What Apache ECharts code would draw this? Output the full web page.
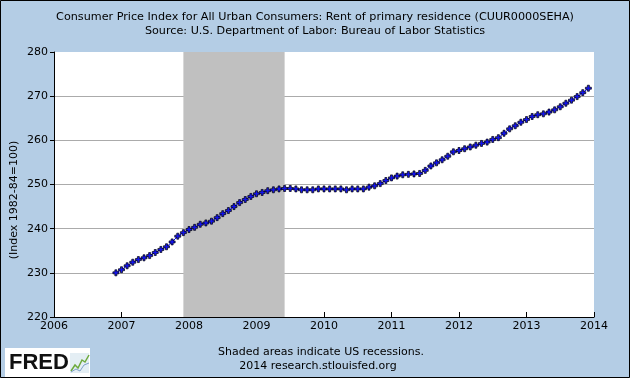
<!DOCTYPE html>
<html>
<head>
<meta charset="utf-8">
<script src="https://cdn.jsdelivr.net/npm/echarts@6/dist/echarts.min.js"></script>
<style>
html,body{margin:0;padding:0;background:#B4CDE5;}
#c{width:630px;height:378px;}
</style>
</head>
<body>
<div id="c"></div>
<script>
// Monthly observations, Dec 2006 .. Dec 2013
const startYear = 2006, startMonth = 12;
const values = [
  230.0,
  230.7, 231.6, 232.4, 233.0, 233.4, 233.9, 234.6, 235.3, 235.9, 237.0, 238.3, 239.1,
  239.8, 240.3, 241.0, 241.3, 241.7, 242.5, 243.4, 244.1, 245.0, 245.9, 246.6, 247.3,
  247.9, 248.2, 248.6, 248.8, 249.0, 249.1, 249.1, 249.0, 248.8, 248.8, 248.8, 249.0,
  249.0, 249.0, 249.0, 249.0, 248.8, 249.0, 249.0, 249.0, 249.4, 249.7, 250.2, 250.9,
  251.5, 251.9, 252.2, 252.3, 252.4, 252.5, 253.2, 254.2, 254.9, 255.6, 256.4, 257.4,
  257.7, 258.1, 258.5, 258.9, 259.3, 259.6, 260.2, 260.6, 261.6, 262.6, 263.3, 264.1,
  264.7, 265.4, 265.8, 266.0, 266.4, 266.9, 267.6, 268.4, 269.1, 269.9, 270.8, 271.8
];
const dates = values.map((v, i) => {
  const m = startMonth - 1 + i;
  const y = startYear + Math.floor(m / 12);
  return y + '-' + String(m % 12 + 1).padStart(2, '0');
});
const recessions = [['2007-12', '2009-06']];
const yTicks = [220, 230, 240, 250, 260, 270, 280];
const xTicks = [2006, 2007, 2008, 2009, 2010, 2011, 2012, 2013, 2014];
const titleLines = [
  'Consumer Price Index for All Urban Consumers: Rent of primary residence (CUUR0000SEHA)',
  'Source: U.S. Department of Labor: Bureau of Labor Statistics'
];
const yName = '(Index 1982-84=100)';
const footerLines = ['Shaded areas indicate US recessions.', '2014 research.stlouisfed.org'];

function toYear(s) { const p = s.split('-'); return +p[0] + (+p[1] - 1) / 12; }

const chart = echarts.init(document.getElementById('c'), null, {renderer: 'canvas'});
const font = 'DejaVu Sans';
const plus = 'path://M2,0 L4,0 L4,2 L6,2 L6,4 L4,4 L4,6 L2,6 L2,4 L0,4 L0,2 L2,2 Z';

chart.setOption({
  backgroundColor: '#B4CDE5',
  animation: false,
  title: {
    text: titleLines.join('\n'),
    left: 'center', top: 5,
    textStyle: {fontFamily: font, fontSize: 11.2, fontWeight: 'normal', color: '#000', lineHeight: 14}
  },
  grid: {left: 54, right: 36, top: 52, bottom: 61, show: true, backgroundColor: '#fff', borderWidth: 0},
  xAxis: {
    type: 'value', min: xTicks[0], max: xTicks[xTicks.length - 1], interval: 1,
    axisLine: {lineStyle: {color: '#000', width: 1}},
    axisTick: {inside: true, length: 5, lineStyle: {color: '#000'}},
    axisLabel: {fontFamily: font, fontSize: 11, color: '#000', margin: 4, formatter: v => String(v)},
    splitLine: {show: false}
  },
  yAxis: {
    type: 'value', min: yTicks[0], max: yTicks[yTicks.length - 1], interval: 10,
    axisLine: {show: true, lineStyle: {color: '#000', width: 1}},
    axisTick: {show: true, length: 4, lineStyle: {color: '#000'}},
    axisLabel: {fontFamily: font, fontSize: 11, color: '#000', margin: 6},
    splitLine: {show: true, lineStyle: {color: ['transparent', '#ABABAB', '#ABABAB', '#ABABAB', '#ABABAB', '#ABABAB', 'transparent'], width: 1}}
  },
  series: [{
    type: 'line',
    data: dates.map((d, i) => [toYear(d), values[i]]),
    lineStyle: {color: '#0000FF', width: 1},
    symbol: plus, symbolSize: 6, showSymbol: true,
    itemStyle: {color: '#1414F0', borderColor: '#000', borderWidth: 0.7},
    markArea: {
      silent: true,
      itemStyle: {color: '#C0C0C0'},
      data: recessions.map(r => [{xAxis: toYear(r[0])}, {xAxis: toYear(r[1])}])
    },
    z: 3
  }],
  graphic: [
    {type: 'rect', shape: {x: 0.5, y: 0.5, width: 629, height: 377}, style: {fill: 'none', stroke: '#000', lineWidth: 1}, z: 100},
    {type: 'text', x: 14, y: 200, rotation: Math.PI / 2,
      style: {text: yName, font: '11px "DejaVu Sans"', fill: '#000', textAlign: 'center', textVerticalAlign: 'middle'}},
    {type: 'text', x: 321, y: 352,
      style: {text: footerLines[0], font: '11px "DejaVu Sans"', fill: '#000', textAlign: 'center', textVerticalAlign: 'middle'}},
    {type: 'text', x: 318, y: 366,
      style: {text: footerLines[1], font: '11px "DejaVu Sans"', fill: '#000', textAlign: 'center', textVerticalAlign: 'middle'}},
    {type: 'rect', shape: {x: 5, y: 348, width: 85, height: 29}, style: {fill: '#fff'}},
    {type: 'text', x: 9, y: 363,
      style: {text: 'FRED', font: 'bold 22px "Liberation Sans"', fill: '#111', textVerticalAlign: 'middle'}},
    {type: 'rect', shape: {x: 70, y: 353, width: 19, height: 20}, style: {fill: '#E4EEF4'}},
    {type: 'polyline', shape: {points: [[71, 371], [75, 365], [78, 368], [82, 360], [85, 362], [89, 355]]}, style: {stroke: '#6DAA3C', lineWidth: 1.5, fill: 'none'}},
    {type: 'polyline', shape: {points: [[71, 372], [76, 369], [80, 371], [84, 365], [89, 363]]}, style: {stroke: '#7FA0C8', lineWidth: 1, fill: 'none'}}
  ]
});
</script>
</body>
</html>
